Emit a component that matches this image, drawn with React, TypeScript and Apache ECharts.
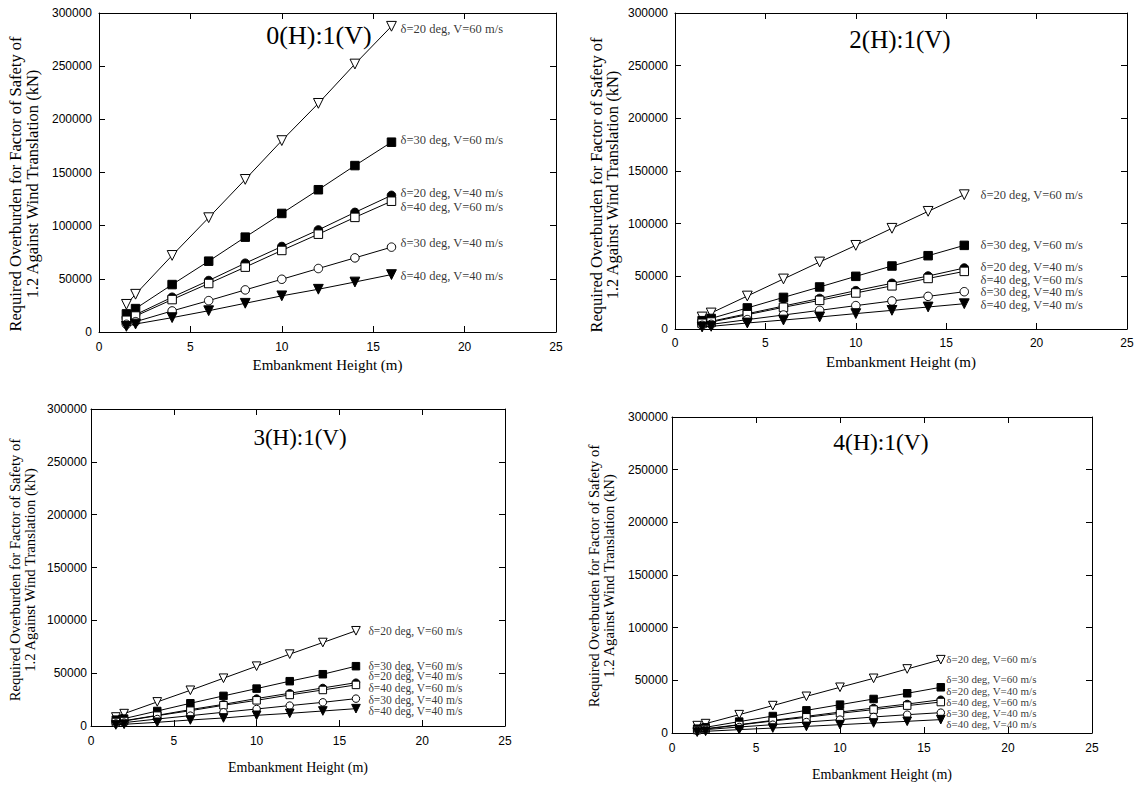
import React, { useEffect, useRef } from "react";
import * as echarts from "echarts";

// ---- Data ----
const heights = [1.5, 2, 4, 6, 8, 10, 12, 14, 16];
const xTicks = [0, 5, 10, 15, 20, 25];
const yTicks = [0, 50000, 100000, 150000, 200000, 250000, 300000];

const seriesNames = [
  "δ=20 deg, V=60 m/s",
  "δ=30 deg, V=60 m/s",
  "δ=20 deg, V=40 m/s",
  "δ=40 deg, V=60 m/s",
  "δ=30 deg, V=40 m/s",
  "δ=40 deg, V=40 m/s",
];

const panelTitles = ["0(H):1(V)", "2(H):1(V)", "3(H):1(V)", "4(H):1(V)"];

// Slope 0(H):1(V)
const s0_d20v60 = [26000, 35500, 72000, 107500, 143500, 180000, 215000, 252000, 287500];
const s0_d30v60 = [17000, 22000, 44600, 66600, 89200, 111500, 133800, 156500, 178500];
const s0_d20v40 = [12500, 16300, 32700, 48400, 64700, 80400, 96000, 112500, 128500];
const s0_d40v60 = [11000, 15000, 30500, 45600, 61000, 76700, 92000, 107800, 123000];
const s0_d30v40 = [7200, 9700, 19800, 29500, 39600, 49600, 59700, 69700, 79800];
const s0_d40v40 = [5300, 7500, 13500, 20000, 27000, 34000, 40200, 47000, 54000];

// Slope 2(H):1(V)
const s2_d20v60 = [11400, 15200, 31300, 47500, 63600, 79400, 95600, 111700, 127500];
const s2_d30v60 = [7900, 10000, 20000, 30000, 39900, 50000, 59800, 69600, 79400];
const s2_d20v40 = [6000, 7300, 14500, 21800, 29000, 36400, 43400, 50300, 57900];
const s2_d40v60 = [5400, 6600, 13600, 20600, 27200, 34200, 41000, 48000, 54700];
const s2_d30v40 = [3500, 4400, 8900, 13300, 17700, 22200, 26600, 31000, 35400];
const s2_d40v40 = [1900, 2500, 5700, 8500, 11400, 14600, 17700, 20900, 24000];

// Slope 3(H):1(V)
const s3_d20v60 = [8500, 11700, 22800, 33800, 45200, 56600, 68000, 79000, 90100];
const s3_d30v60 = [6000, 7000, 14200, 21500, 28500, 35400, 42400, 49000, 56600];
const s3_d20v40 = [3800, 5000, 10100, 15500, 20500, 26000, 31000, 36000, 41000];
const s3_d40v60 = [3800, 4700, 9800, 14500, 19600, 24300, 29400, 34100, 38900];
const s3_d30v40 = [2400, 3200, 6600, 9800, 13000, 16100, 19300, 22400, 25900];
const s3_d40v40 = [1000, 1600, 3500, 5700, 7600, 10100, 12000, 14200, 16400];

// Slope 4(H):1(V)
const s4_d20v60 = [7000, 8900, 17400, 26000, 34800, 43400, 51900, 60800, 69600];
const s4_d30v60 = [4100, 5400, 10800, 16100, 21500, 26900, 32300, 37700, 43400];
const s4_d20v40 = [3000, 4100, 7900, 12000, 15800, 19900, 23700, 27500, 31600];
const s4_d40v60 = [2800, 3800, 7600, 11400, 14900, 18700, 22200, 26000, 29400];
const s4_d30v40 = [2000, 3200, 5700, 7900, 10400, 12700, 15200, 17400, 19300];
const s4_d40v40 = [800, 1600, 3200, 4700, 6300, 7900, 9500, 11100, 12700];

// Annotation anchors (data coordinates of series labels)
const labelX = [16.5, 16.9, 16.75, 16.33];
const labelY0 = [285000, 180600, 131000, 117800, 83900, 52500];
const labelY2 = [126900, 79700, 58500, 46600, 34700, 22900];
const labelY3 = [90100, 57200, 47100, 36000, 24700, 14200];
const labelY4 = [70600, 51300, 40000, 29500, 19000, 8500];

const panelData = [
  [s0_d20v60, s0_d30v60, s0_d20v40, s0_d40v60, s0_d30v40, s0_d40v40],
  [s2_d20v60, s2_d30v60, s2_d20v40, s2_d40v60, s2_d30v40, s2_d40v40],
  [s3_d20v60, s3_d30v60, s3_d20v40, s3_d40v60, s3_d30v40, s3_d40v40],
  [s4_d20v60, s4_d30v60, s4_d20v40, s4_d40v60, s4_d30v40, s4_d40v40],
];
const panelLabelY = [labelY0, labelY2, labelY3, labelY4];

// ---- Layout / style ----
const layouts = [
  { left: 99, top: 13, width: 457, height: 319, titleX: 319, titleY: 35, titleSize: 26, labelSize: 12.5,
    yNameX: 24, yNameY: 184, yNameSize: 16.5, yNameLH: 16.3, xNameSize: 15, xNameGap: 25, sym: 8.5, xLabelMargin: 9, yLabelMargin: 7 },
  { left: 675, top: 13, width: 452, height: 316, titleX: 900, titleY: 39, titleSize: 25, labelSize: 12.5,
    yNameX: 604.5, yNameY: 185, yNameSize: 16.5, yNameLH: 15.6, xNameSize: 15, xNameGap: 25, sym: 8.5, xLabelMargin: 8, yLabelMargin: 7 },
  { left: 91, top: 409, width: 414, height: 317, titleX: 300, titleY: 437, titleSize: 23, labelSize: 11.5,
    yNameX: 22.5, yNameY: 570, yNameSize: 14.7, yNameLH: 15, xNameSize: 14, xNameGap: 34, sym: 7.5, xLabelMargin: 9, yLabelMargin: 4 },
  { left: 672, top: 417, width: 420, height: 316, titleX: 881, titleY: 442, titleSize: 23.5, labelSize: 11,
    yNameX: 601.7, yNameY: 576, yNameSize: 14.7, yNameLH: 15.3, xNameSize: 14, xNameGap: 34, sym: 7.5, xLabelMargin: 9, yLabelMargin: 4 },
];

const SERIF = "Liberation Serif";
const SANS = "Liberation Sans";

const markerStyles = [
  { symbol: "triangle", rotate: 180, fill: "#ffffff", scale: 1.15 },
  { symbol: "rect", rotate: 0, fill: "#000000", scale: 1 },
  { symbol: "circle", rotate: 0, fill: "#000000", scale: 1 },
  { symbol: "rect", rotate: 0, fill: "#ffffff", scale: 1 },
  { symbol: "circle", rotate: 0, fill: "#ffffff", scale: 1 },
  { symbol: "triangle", rotate: 180, fill: "#000000", scale: 1.15 },
];

function buildOption() {
  const grid: any[] = [];
  const xAxis: any[] = [];
  const yAxis: any[] = [];
  const series: any[] = [];
  const graphic: any[] = [];

  layouts.forEach((L, p) => {
    grid.push({ left: L.left, top: L.top, width: L.width, height: L.height, containLabel: false });
    const axisLine = { show: true, onZero: false, lineStyle: { color: "#000", width: 1 } };
    const tick = { show: true, inside: true, length: 6, lineStyle: { color: "#000", width: 1 } };
    // bottom x
    xAxis.push({
      type: "value", gridIndex: p, position: "bottom", min: xTicks[0], max: xTicks[xTicks.length - 1], interval: 5,
      axisLine, axisTick: tick, splitLine: { show: false },
      axisLabel: { show: true, color: "#000", fontFamily: SANS, fontSize: 12, margin: L.xLabelMargin,
        formatter: (v: number) => String(v) },
      name: "Embankment Height (m)", nameLocation: "middle", nameGap: L.xNameGap,
      nameTextStyle: { color: "#000", fontFamily: SERIF, fontSize: L.xNameSize },
    });
    // top x (frame)
    xAxis.push({
      type: "value", gridIndex: p, position: "top", min: xTicks[0], max: xTicks[xTicks.length - 1], interval: 5,
      axisLine, axisTick: tick, splitLine: { show: false }, axisLabel: { show: false },
    });
    // left y
    yAxis.push({
      type: "value", gridIndex: p, position: "left", min: yTicks[0], max: yTicks[yTicks.length - 1], interval: 50000,
      axisLine, axisTick: tick, splitLine: { show: false },
      axisLabel: { show: true, color: "#000", fontFamily: SANS, fontSize: 12, margin: L.yLabelMargin,
        formatter: (v: number) => String(v) },
    });
    // right y (frame)
    yAxis.push({
      type: "value", gridIndex: p, position: "right", min: yTicks[0], max: yTicks[yTicks.length - 1], interval: 50000,
      axisLine, axisTick: tick, splitLine: { show: false }, axisLabel: { show: false },
    });

    const xi = p * 2;
    const yi = p * 2;
    panelData[p].forEach((vals, s) => {
      const m = markerStyles[s];
      series.push({
        type: "line",
        name: seriesNames[s],
        xAxisIndex: xi,
        yAxisIndex: yi,
        data: heights.map((h, i) => [h, vals[i]]),
        symbol: m.symbol,
        symbolRotate: m.rotate,
        symbolSize: L.sym * m.scale,
        showSymbol: true,
        lineStyle: { color: "#000", width: 1 },
        itemStyle: { color: m.fill, borderColor: "#000", borderWidth: 1 },
        emphasis: { disabled: true },
        z: 2 + s * 0.01,
      });
    });
    series.push({
      type: "scatter",
      xAxisIndex: xi,
      yAxisIndex: yi,
      symbolSize: 0,
      silent: true,
      data: panelLabelY[p].map((y, i) => ({ value: [labelX[p], y], name: seriesNames[i] })),
      label: {
        show: true, position: "right", distance: 0, color: "#000",
        fontFamily: SERIF, fontSize: L.labelSize, lineHeight: 9,
        formatter: (q: any) => q.name,
      },
      z: 5,
    });

    graphic.push({
      type: "text", x: L.titleX, y: L.titleY,
      style: { text: panelTitles[p], fill: "#000", fontFamily: SERIF, fontSize: L.titleSize,
        textAlign: "center", textVerticalAlign: "middle" },
    });
    graphic.push({
      type: "text", x: L.yNameX, y: L.yNameY, rotation: Math.PI / 2,
      style: {
        text: "Required Overburden for Factor of Safety of\n1.2 Against Wind Translation (kN)",
        fill: "#000", fontFamily: SERIF, fontSize: L.yNameSize, lineHeight: L.yNameLH,
        textAlign: "center", textVerticalAlign: "middle",
      },
    });
  });

  return {
    animation: false,
    backgroundColor: "#ffffff",
    textStyle: { fontFamily: SERIF },
    grid, xAxis, yAxis, series, graphic,
  };
}

export default function App() {
  const ref = useRef<HTMLDivElement>(null);
  useEffect(() => {
    if (!ref.current) return;
    const chart = echarts.init(ref.current, undefined, { renderer: "svg" });
    chart.setOption(buildOption() as any);
    return () => chart.dispose();
  }, []);
  return (
    <div
      ref={ref}
      style={{ position: "absolute", left: 0, top: 0, width: 1142, height: 787, background: "#fff" }}
    />
  );
}
